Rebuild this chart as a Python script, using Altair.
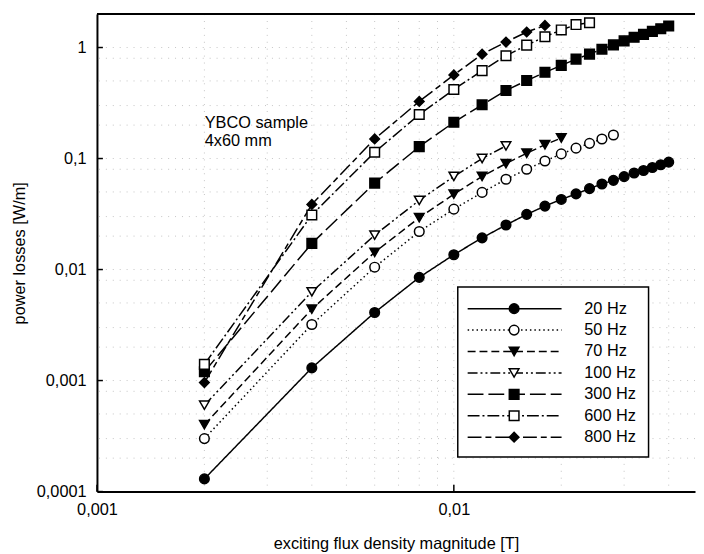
import altair as alt
import pandas as pd

series = ["20 Hz", "50 Hz", "70 Hz", "100 Hz", "300 Hz", "600 Hz", "800 Hz"]

b_20 = [0.002, 0.004, 0.006, 0.008, 0.010, 0.012, 0.014, 0.016, 0.018, 0.020,
        0.022, 0.024, 0.026, 0.028, 0.030, 0.032, 0.034, 0.036, 0.038, 0.040]
p_20 = [0.00013, 0.0013, 0.0041, 0.0085, 0.0136, 0.0193, 0.0252, 0.0314, 0.0373, 0.0428,
        0.048, 0.0536, 0.059, 0.0636, 0.0687, 0.074, 0.078, 0.083, 0.0878, 0.0927]

b_50 = [0.002, 0.004, 0.006, 0.008, 0.010, 0.012, 0.014, 0.016, 0.018, 0.020,
        0.022, 0.024, 0.026, 0.028]
p_50 = [0.0003, 0.0032, 0.0105, 0.022, 0.035, 0.0495, 0.065, 0.080, 0.095, 0.110,
        0.124, 0.137, 0.150, 0.163]

b_70 = [0.002, 0.004, 0.006, 0.008, 0.010, 0.012, 0.014, 0.016, 0.018, 0.020]
p_70 = [0.0004, 0.0044, 0.0143, 0.0293, 0.0477, 0.069, 0.090, 0.1116, 0.133, 0.153]

b_100 = [0.002, 0.004, 0.006, 0.008, 0.010, 0.012, 0.014]
p_100 = [0.0006, 0.0063, 0.0204, 0.042, 0.069, 0.100, 0.130]

b_300 = [0.002, 0.004, 0.006, 0.008, 0.010, 0.012, 0.014, 0.016, 0.018, 0.020,
         0.022, 0.024, 0.026, 0.028, 0.030, 0.032, 0.034, 0.036, 0.038, 0.040]
p_300 = [0.0012, 0.0172, 0.060, 0.128, 0.212, 0.305, 0.41, 0.504, 0.598, 0.69,
         0.786, 0.871, 0.966, 1.057, 1.147, 1.236, 1.314, 1.398, 1.478, 1.562]

b_600 = [0.002, 0.004, 0.006, 0.008, 0.010, 0.012, 0.014, 0.016, 0.018, 0.020,
         0.022, 0.024]
p_600 = [0.0014, 0.031, 0.114, 0.249, 0.419, 0.619, 0.843, 1.05, 1.25, 1.44,
         1.61, 1.67]

b_800 = [0.002, 0.004, 0.006, 0.008, 0.010, 0.012, 0.014, 0.016, 0.018]
p_800 = [0.00096, 0.0386, 0.150, 0.327, 0.566, 0.871, 1.12, 1.38, 1.58]

x_ticks = [0.001, 0.01]
y_ticks = [0.0001, 0.001, 0.01, 0.1, 1]
x_grid = [0.002, 0.003, 0.004, 0.005, 0.006, 0.007, 0.008, 0.009, 0.01, 0.02, 0.03, 0.04]
y_grid = [0.0002, 0.0003, 0.0005, 0.0008,
          0.001, 0.002, 0.003, 0.005, 0.008,
          0.01, 0.02, 0.03, 0.05, 0.08,
          0.1, 0.2, 0.3, 0.5, 0.8, 1]

annotation = "YBCO sample\n4x60 mm"
x_title = "exciting flux density magnitude [T]"
y_title = "power losses [W/m]"

dashes = [[1, 0], [1.5, 3], [8, 4], [10, 3, 2, 3, 2, 3], [16, 5], [12, 3, 2, 3], [14, 4, 6, 4]]
shapes = ["circle", "circle", "triangle-down", "triangle-down", "square", "square", "diamond"]
fills = ["black", "white", "black", "white", "black", "white", "black"]
sizes = [95, 95, 95, 95, 85, 85, 210]

rows = []
for name, bs, ps in zip(series, [b_20, b_50, b_70, b_100, b_300, b_600, b_800],
                        [p_20, p_50, p_70, p_100, p_300, p_600, p_800]):
    for b, p in zip(bs, ps):
        rows.append({"series": name, "B": b, "P": p})
df = pd.DataFrame(rows)

FONT = "Liberation Sans"
FS = 16.5
W, H = 605, 483
XDOM = [0.001, 0.0474]
YDOM = [0.0001, 2.0]

xscale = alt.Scale(type="log", domain=XDOM, nice=False)
yscale = alt.Scale(type="log", domain=YDOM, nice=False)
dash_scale = alt.Scale(domain=series, range=dashes)
shape_scale = alt.Scale(domain=series, range=shapes)
fill_scale = alt.Scale(domain=series, range=fills)
size_scale = alt.Scale(domain=series, range=sizes)

comma = "replace(toString(datum.value), '.', ',')"

x_enc = alt.X("B:Q", scale=xscale, axis=alt.Axis(
    values=x_ticks, title=x_title, labelExpr=comma, ticks=False, tickSize=0,
    labelPadding=10, labelFlush=False, titlePadding=18, grid=False))
y_enc = alt.Y("P:Q", scale=yscale, axis=alt.Axis(
    values=y_ticks, title=y_title, labelExpr=comma, ticks=False, tickSize=0,
    labelPadding=11, labelFlush=False, titlePadding=9, grid=False))

lines = alt.Chart(df).mark_line(color="black", strokeWidth=1.5).encode(
    x=x_enc, y=y_enc, detail="series:N",
    strokeDash=alt.StrokeDash("series:N", scale=dash_scale, legend=None),
    order="B:Q")

points = alt.Chart(df).mark_point(filled=True, stroke="black", strokeWidth=1.5, opacity=1).encode(
    x=alt.X("B:Q", scale=xscale),
    y=alt.Y("P:Q", scale=yscale, axis=None),
    shape=alt.Shape("series:N", scale=shape_scale, legend=None),
    fill=alt.Fill("series:N", scale=fill_scale, legend=None),
    size=alt.Size("series:N", scale=size_scale, legend=None))

gx = alt.Chart(pd.DataFrame({"g": x_grid})).mark_rule(
    color="#c4c4c4", strokeWidth=1, strokeDash=[1, 6]).encode(
    x=alt.X("g:Q", scale=xscale))
gy = alt.Chart(pd.DataFrame({"g": y_grid})).mark_rule(
    color="#c4c4c4", strokeWidth=1, strokeDash=[1, 6]).encode(
    y=alt.Y("g:Q", scale=yscale, axis=None))

tick_y = alt.Chart(pd.DataFrame({"t": y_ticks})).mark_rule(color="black", strokeWidth=1.5).encode(
    y=alt.Y("t:Q", scale=yscale, axis=None), x=alt.value(0), x2=alt.value(6))
tick_x = alt.Chart(pd.DataFrame({"t": x_ticks})).mark_rule(color="black", strokeWidth=1.5).encode(
    x=alt.X("t:Q", scale=xscale), y=alt.value(H), y2=alt.value(H - 7))

top_line = alt.Chart(pd.DataFrame({"a": [0]})).mark_rule(color="black", strokeWidth=2).encode(
    x=alt.value(0), x2=alt.value(W), y=alt.value(0))

leg_df = pd.DataFrame({"series": series})
leg_y = alt.Y("series:N", scale=alt.Scale(type="point", domain=series, range=[298, 428], padding=0), axis=None)

leg_box = alt.Chart(pd.DataFrame({"a": [0]})).mark_rect(
    fill="white", stroke="black", strokeWidth=1.5).encode(
    x=alt.value(365), x2=alt.value(558), y=alt.value(276), y2=alt.value(448))
leg_lines = alt.Chart(leg_df).mark_rule(color="black", strokeWidth=1.5).encode(
    x=alt.value(375), x2=alt.value(470), y=leg_y,
    strokeDash=alt.StrokeDash("series:N", scale=dash_scale, legend=None))
leg_pts = alt.Chart(leg_df).mark_point(filled=True, stroke="black", strokeWidth=1.5, opacity=1).encode(
    x=alt.value(422), y=leg_y,
    shape=alt.Shape("series:N", scale=shape_scale, legend=None),
    fill=alt.Fill("series:N", scale=fill_scale, legend=None),
    size=alt.Size("series:N", scale=size_scale, legend=None))
leg_text = alt.Chart(leg_df).mark_text(
    align="left", baseline="middle", font=FONT, fontSize=FS, color="black").encode(
    x=alt.value(493), y=leg_y, text="series:N")

ann = alt.Chart(pd.DataFrame({"t": [annotation]})).mark_text(
    align="left", baseline="alphabetic", font=FONT, fontSize=FS, color="black",
    lineBreak="\n", lineHeight=18).encode(
    x=alt.value(109), y=alt.value(115), text="t:N")

chart = alt.layer(
    gx, gy, tick_y, tick_x, lines, points, top_line,
    leg_box, leg_lines, leg_pts, leg_text, ann
).resolve_scale(y="independent").properties(
    width=W, height=H,
    autosize=alt.AutoSizeParams(type="none"),
    padding={"left": 90, "top": 3, "right": 1, "bottom": 60},
).configure_view(stroke=None).configure_axis(
    domainColor="black", domainWidth=2, labelFont=FONT, labelFontSize=FS,
    labelColor="black", titleFont=FONT, titleFontSize=FS, titleFontWeight="normal",
    titleColor="black")

chart.save("out.html", embed_options={"renderer": "svg", "actions": False})
